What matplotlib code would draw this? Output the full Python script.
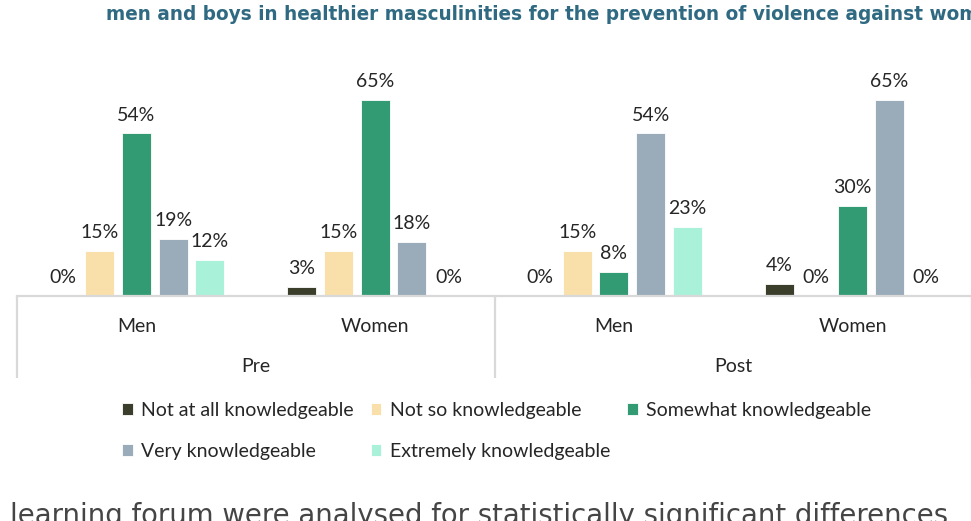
import matplotlib.pyplot as plt
import numpy as np

# Данные
genders = ['Men', 'Women', 'Men', 'Women']
periods = ['Pre', 'Post']
levels = ['Not at all knowledgeable', 'Not so knowledgeable', 'Somewhat knowledgeable',
          'Very knowledgeable', 'Extremely knowledgeable']
not_at_all = [0, 3, 0, 4]
not_so = [15, 15, 15, 0]
somewhat = [54, 65, 8, 30]
very = [19, 18, 54, 65]
extremely = [12, 0, 23, 0]
colors = ['#3b3e2a', '#f9dfaa', '#339b73', '#9aabb9', '#aaf1d9']

series = [not_at_all, not_so, somewhat, very, extremely]

plt.rcParams['font.family'] = ['Lato', 'DejaVu Sans']
fs = 14

fig = plt.figure(figsize=(9.71, 5.21), dpi=100)
ax = fig.add_axes([17 / 971, 225 / 521, 955 / 971, 211 / 521])

x = np.arange(len(genders))
step = 0.154
width = 0.1215
handles = []
for i, vals in enumerate(series):
    bars = ax.bar(x + (i - 2) * step, vals, width, color=colors[i],
                  edgecolor='white', linewidth=0.6, label=levels[i])
    ax.bar_label(bars, labels=[f'{v}%' for v in vals], padding=7,
                 fontsize=fs, color='#262626')
    handles.append(bars)

ax.set_xlim(-0.5, 3.5)
ax.set_ylim(0, 70)
ax.set_yticks([])
for s in ['top', 'right', 'left']:
    ax.spines[s].set_visible(False)
ax.spines['bottom'].set_color('#d9d9d9')
ax.spines['bottom'].set_linewidth(1.6)

ax.set_xticks(x, genders, fontsize=fs, color='#262626')
ax.tick_params(axis='x', which='major', length=0, pad=16)
ax.set_xticks([-0.5, 1.5, 3.5], minor=True)
ax.tick_params(axis='x', which='minor', length=59, width=1.6, color='#d9d9d9')

# Подписи периодов
for j, p in enumerate(periods):
    ax.text(2 * j + 0.5, -0.332, p, transform=ax.get_xaxis_transform(),
            ha='center', va='center', fontsize=fs, color='#262626')

# Легенда по строкам
order = [0, 3, 1, 4, 2]
fig.legend([handles[k] for k in order], [levels[k] for k in order],
           ncol=3, loc='upper left', bbox_to_anchor=(122 / 971, 1 - 402 / 521),
           frameon=False, fontsize=fs, handlelength=0.55, handleheight=0.55,
           handletextpad=0.45, columnspacing=0.85, labelspacing=1.23,
           borderpad=0, borderaxespad=0, labelcolor='#262626')

# Обрезанный текст страницы
fig.text(106 / 971, 1 - 15 / 521,
         'men and boys in healthier masculinities for the prevention of violence against women and girls',
         fontsize=13.35, fontweight='bold', color='#2f6a82', va='center',
         family=['DejaVu Sans'])
fig.text(10 / 971, 1 - 524 / 521,
         'learning forum were analysed for statistically significant differences',
         fontsize=19.8, color='#454545', va='baseline',
         family=['DejaVu Sans'])

plt.savefig('out.png', dpi=100)
